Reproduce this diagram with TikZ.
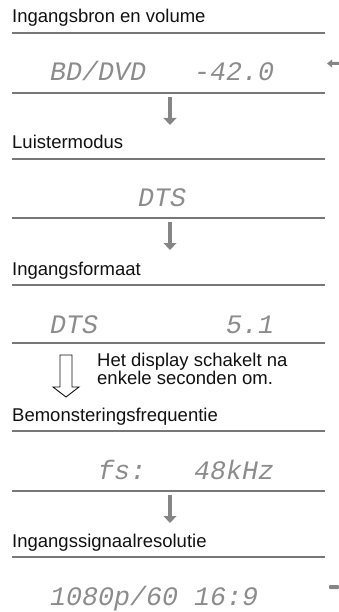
\documentclass[tikz,border=0pt]{standalone}
\usepackage{fontspec}
\setmainfont{Liberation Sans}
\newfontfamily\dispfont{Liberation Mono}
\usetikzlibrary{arrows.meta}
\definecolor{rulegray}{HTML}{777777}
\definecolor{arrowgray}{HTML}{858585}
\definecolor{dispgray}{HTML}{8C8C8C}
\definecolor{textblack}{HTML}{111111}
\begin{document}
\begin{tikzpicture}[x=1pt,y=-1pt,
  head/.style={anchor=base west,inner sep=0pt,text=textblack,font=\fontsize{18.5}{22}\selectfont},
  disp/.style={anchor=base west,inner sep=0pt,text=dispgray,font=\dispfont\itshape\fontsize{26.67}{30}\selectfont},
  rulestyle/.style={draw=rulegray,line width=1.2pt},
  flow/.style={draw=arrowgray,line width=4.5pt,-{Triangle[width=12.7pt,length=7pt]}},
  hollow/.style={draw=textblack,line width=0.9pt,fill=white},
]
\useasboundingbox (0,0) rectangle (339,612);

% headings
\node[head] (h1) at (12,23) {Ingangsbron en volume};
\node[head] (h2) at (12,149) {Luistermodus};
\node[head] (h3) at (12,275) {Ingangsformaat};
\node[head] (h4) at (12,421) {Bemonsteringsfrequentie};
\node[head] (h5) at (12,547) {Ingangssignaalresolutie};

% rules
\foreach \yy in {33,93,159,218,285,343,431,491,557}
  \draw[rulestyle] (12,\yy) -- (325,\yy);

% display texts
\node[disp] (d1a) at (50,81) {BD/DVD};
\node[disp] (d1b) at (194,81) {-42.0};
\node[disp] (d2) at (138,207) {DTS};
\node[disp] (d3a) at (50,333) {DTS};
\node[disp] (d3b) at (226,333) {5.1};
\node[disp] (d4a) at (98,479) {fs:};
\node[disp] (d4b) at (194,479) {48kHz};
\node[disp] (d5a) at (50,605) {1080p/60};
\node[disp] (d5b) at (194,605) {16:9};

% flow arrows
\coordinate (s1) at (170,97);  \coordinate (e1) at (170,125);
\coordinate (s2) at (170,222); \coordinate (e2) at (170,250);
\coordinate (s4) at (170,495); \coordinate (e4) at (170,523);
\draw[flow] (s1) -- (e1);
\draw[flow] (s2) -- (e2);
\draw[flow] (s4) -- (e4);

% hollow arrow
\draw[hollow] (60,355) -- (72,355) -- (72,387) -- (79,387) -- (66,397) -- (53,387) -- (60,387) -- cycle;
\node[head] (n1) at (97,366) {Het display schakelt na};
\node[head] (n2) at (97,384) {enkele seconden om.};

% edge marks
\fill[arrowgray] (327,63.5) -- (332,59.5) -- (332,62) -- (339,62) -- (339,65) -- (332,65) -- (332,67.5) -- cycle;
\fill[arrowgray, rounded corners=1pt] (329,585) rectangle (339,589);
\end{tikzpicture}
\end{document}
